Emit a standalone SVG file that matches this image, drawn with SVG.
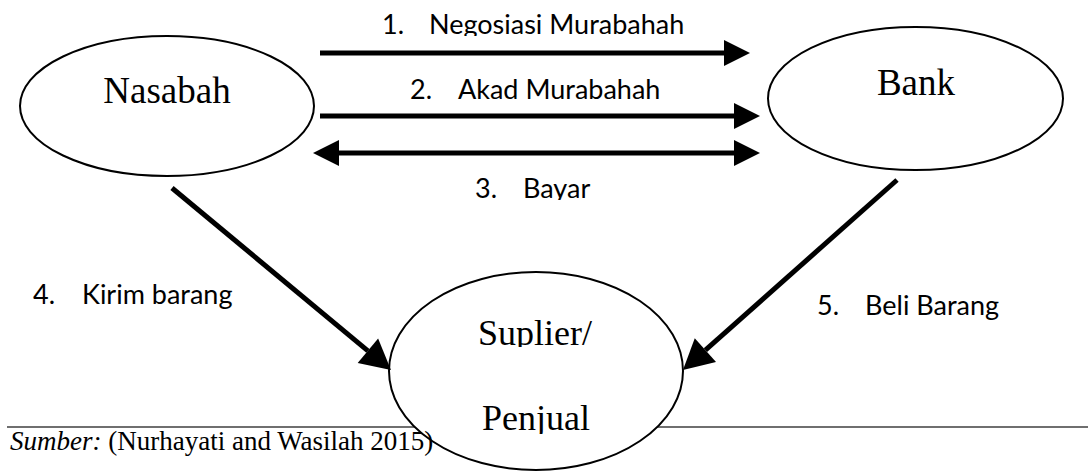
<svg xmlns="http://www.w3.org/2000/svg" width="1088" height="471" viewBox="0 0 1088 471">
  <style>
    .node { fill: #ffffff; stroke: #000000; stroke-width: 2; }
    .ntext { font-family: "Liberation Serif", "Times New Roman", serif; font-size: 37px; fill: #000000; text-anchor: middle; }
    .stext { font-size: 36px; }
    .lbl { font-family: Lato, "Open Sans", sans-serif; font-size: 27px; fill: #000000; }
    .conn { stroke: #000000; stroke-width: 5; fill: none; stroke-linecap: butt; }
    .src { font-family: "Liberation Serif", "Times New Roman", serif; font-size: 27px; fill: #000000; }
  </style>
  <defs>
    <marker id="ah" markerUnits="userSpaceOnUse" markerWidth="27" markerHeight="28" refX="0" refY="14" orient="auto-start-reverse" overflow="visible">
      <path d="M0,1 L26,14 L0,27 Z" fill="#000000"/>
    </marker>
    <marker id="ahd" markerUnits="userSpaceOnUse" markerWidth="31" markerHeight="32" refX="0" refY="16" orient="auto" overflow="visible">
      <path d="M0,0 L30,16 L0,32 Z" fill="#000000"/>
    </marker>
    <clipPath id="clip1"><rect x="0" y="0" width="1088" height="36"/></clipPath>
    <clipPath id="clip3"><rect x="0" y="160" width="1088" height="40"/></clipPath>
    <clipPath id="clipS"><rect x="0" y="300" width="1088" height="47"/></clipPath>
    <clipPath id="clipP"><rect x="0" y="390" width="1088" height="44"/></clipPath>
  </defs>

  <rect x="0" y="0" width="1088" height="471" fill="#ffffff"/>

  <line id="rule" x1="7" y1="427" x2="1088" y2="427" stroke="#6f6f6f" stroke-width="2"/>

  <g id="nasabah">
    <ellipse class="node" cx="167" cy="106" rx="147" ry="70"/>
    <text class="ntext" x="167" y="103">Nasabah</text>
  </g>

  <g id="bank">
    <ellipse class="node" cx="915.5" cy="98.5" rx="147.5" ry="71.5"/>
    <text class="ntext" x="916" y="95">Bank</text>
  </g>

  <g id="suplier">
    <ellipse class="node" cx="536" cy="371" rx="147" ry="99"/>
    <text class="ntext stext" x="535" y="345" clip-path="url(#clipS)">Suplier/</text>
    <text class="ntext stext" x="536" y="430" clip-path="url(#clipP)">Penjual</text>
  </g>

  <g id="connectors">
    <line class="conn" x1="320" y1="53" x2="724" y2="53" marker-end="url(#ah)"/>
    <line class="conn" x1="320" y1="116" x2="734" y2="116" marker-end="url(#ah)"/>
    <line class="conn" x1="339" y1="153" x2="734" y2="153" marker-start="url(#ah)" marker-end="url(#ah)"/>
    <line class="conn" x1="172" y1="188" x2="367.9" y2="350.8" stroke-width="6" marker-end="url(#ahd)"/>
    <line class="conn" x1="897" y1="180" x2="705.4" y2="350.1" stroke-width="6" marker-end="url(#ahd)"/>
  </g>

  <g id="labels">
    <text class="lbl" y="34" clip-path="url(#clip1)"><tspan x="382">1.</tspan><tspan x="429">Negosiasi Murabahah</tspan></text>
    <text class="lbl" y="99"><tspan x="410">2.</tspan><tspan x="458">Akad Murabahah</tspan></text>
    <text class="lbl" y="198" clip-path="url(#clip3)"><tspan x="475">3.</tspan><tspan x="523">Bayar</tspan></text>
    <text class="lbl" y="304"><tspan x="33">4.</tspan><tspan x="82">Kirim barang</tspan></text>
    <text class="lbl" y="315"><tspan x="817">5.</tspan><tspan x="865">Beli Barang</tspan></text>
  </g>

  <text class="src" x="10" y="450"><tspan font-style="italic">Sumber:</tspan> (Nurhayati and Wasilah 2015)</text>
</svg>
